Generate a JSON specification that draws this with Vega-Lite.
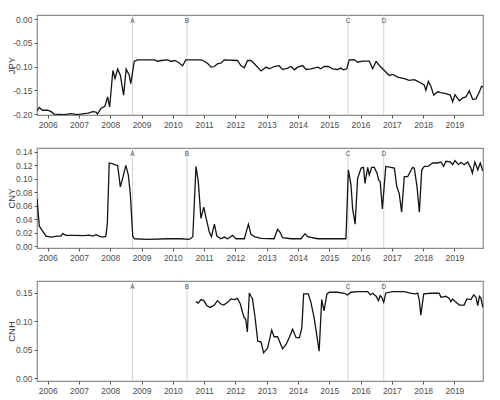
{
  "$schema": "https://vega.github.io/schema/vega-lite/v6.json",
  "padding": {"left": 5, "top": 14, "right": 18, "bottom": 4},
  "spacing": 17,
  "background": "white",
  "config": {
    "view": {"stroke": "#8c8c8c", "strokeWidth": 1.2},
    "axis": {
      "labelFont": "Liberation Sans", "labelFontSize": 8.5, "labelColor": "#4d4d4d",
      "titleFont": "Liberation Sans", "titleFontSize": 9.5, "titleFontWeight": "normal", "titleColor": "#333333",
      "domain": false, "tickColor": "#555555", "tickSize": 3, "labelPadding": 2, "labelFlush": false, "labelOverlap": false,
      "gridColor": "#e9e9e9"
    }
  },
  "datasets": {
    "events": [
      {"date": "2008-09-17", "label": "A"},
      {"date": "2010-06-15", "label": "B"},
      {"date": "2015-08-09", "label": "C"},
      {"date": "2016-09-28", "label": "D"}
    ],
    "jpy": [
      {"date": "2005-08-29", "value": -0.193}, {"date": "2005-09-25", "value": -0.186}, {"date": "2005-11-01", "value": -0.192},
      {"date": "2006-01-01", "value": -0.192}, {"date": "2006-02-10", "value": -0.195}, {"date": "2006-03-15", "value": -0.2},
      {"date": "2006-07-10", "value": -0.201}, {"date": "2006-10-01", "value": -0.199}, {"date": "2006-12-15", "value": -0.201},
      {"date": "2007-03-01", "value": -0.199}, {"date": "2007-04-20", "value": -0.198}, {"date": "2007-06-10", "value": -0.195},
      {"date": "2007-07-20", "value": -0.196}, {"date": "2007-08-05", "value": -0.2}, {"date": "2007-09-15", "value": -0.188},
      {"date": "2007-11-01", "value": -0.183}, {"date": "2007-12-01", "value": -0.164}, {"date": "2007-12-25", "value": -0.185},
      {"date": "2008-02-01", "value": -0.108}, {"date": "2008-02-25", "value": -0.125}, {"date": "2008-03-28", "value": -0.105},
      {"date": "2008-04-28", "value": -0.118}, {"date": "2008-06-05", "value": -0.16}, {"date": "2008-07-05", "value": -0.105},
      {"date": "2008-08-10", "value": -0.118}, {"date": "2008-08-28", "value": -0.136}, {"date": "2008-10-08", "value": -0.0885},
      {"date": "2008-11-15", "value": -0.0857}, {"date": "2009-03-15", "value": -0.0857}, {"date": "2009-05-30", "value": -0.0857},
      {"date": "2009-07-10", "value": -0.0885}, {"date": "2009-08-15", "value": -0.087}, {"date": "2009-11-01", "value": -0.0857},
      {"date": "2009-12-10", "value": -0.089}, {"date": "2010-01-20", "value": -0.087}, {"date": "2010-03-05", "value": -0.0906},
      {"date": "2010-04-25", "value": -0.098}, {"date": "2010-06-01", "value": -0.0857}, {"date": "2010-11-25", "value": -0.0857},
      {"date": "2011-01-05", "value": -0.0885}, {"date": "2011-02-15", "value": -0.094}, {"date": "2011-03-22", "value": -0.101},
      {"date": "2011-05-01", "value": -0.0997}, {"date": "2011-06-05", "value": -0.094}, {"date": "2011-07-15", "value": -0.0927},
      {"date": "2011-08-25", "value": -0.0857}, {"date": "2012-01-25", "value": -0.087}, {"date": "2012-03-05", "value": -0.0976},
      {"date": "2012-04-15", "value": -0.1024}, {"date": "2012-05-22", "value": -0.087}, {"date": "2012-07-01", "value": -0.087},
      {"date": "2012-08-10", "value": -0.094}, {"date": "2012-10-27", "value": -0.109}, {"date": "2012-12-25", "value": -0.101},
      {"date": "2013-02-01", "value": -0.1045}, {"date": "2013-03-28", "value": -0.0997}, {"date": "2013-05-25", "value": -0.098},
      {"date": "2013-07-05", "value": -0.106}, {"date": "2013-09-01", "value": -0.103}, {"date": "2013-10-12", "value": -0.0997},
      {"date": "2013-11-20", "value": -0.1066}, {"date": "2013-12-28", "value": -0.101}, {"date": "2014-02-25", "value": -0.0976},
      {"date": "2014-04-05", "value": -0.106}, {"date": "2014-06-01", "value": -0.1045}, {"date": "2014-08-18", "value": -0.101},
      {"date": "2014-09-25", "value": -0.1045}, {"date": "2014-11-01", "value": -0.0997}, {"date": "2014-12-20", "value": -0.0997},
      {"date": "2015-02-10", "value": -0.1045}, {"date": "2015-04-08", "value": -0.106}, {"date": "2015-05-15", "value": -0.103},
      {"date": "2015-06-17", "value": -0.1066}, {"date": "2015-07-25", "value": -0.1045}, {"date": "2015-08-22", "value": -0.0857},
      {"date": "2015-10-20", "value": -0.085}, {"date": "2015-11-28", "value": -0.0906}, {"date": "2016-01-25", "value": -0.0885},
      {"date": "2016-04-12", "value": -0.0885}, {"date": "2016-05-22", "value": -0.1045}, {"date": "2016-07-01", "value": -0.089},
      {"date": "2016-08-08", "value": -0.0976}, {"date": "2016-10-05", "value": -0.108}, {"date": "2016-12-02", "value": -0.1185},
      {"date": "2017-01-12", "value": -0.1164}, {"date": "2017-03-10", "value": -0.122}, {"date": "2017-05-26", "value": -0.1254},
      {"date": "2017-07-22", "value": -0.129}, {"date": "2017-09-20", "value": -0.1275}, {"date": "2017-10-30", "value": -0.131},
      {"date": "2017-12-05", "value": -0.1345}, {"date": "2018-01-15", "value": -0.139}, {"date": "2018-02-02", "value": -0.15},
      {"date": "2018-03-03", "value": -0.131}, {"date": "2018-04-01", "value": -0.1415}, {"date": "2018-05-05", "value": -0.16},
      {"date": "2018-06-20", "value": -0.153}, {"date": "2018-07-28", "value": -0.155}, {"date": "2018-09-24", "value": -0.157},
      {"date": "2018-11-14", "value": -0.16}, {"date": "2018-12-12", "value": -0.174}, {"date": "2019-01-08", "value": -0.159},
      {"date": "2019-02-28", "value": -0.172}, {"date": "2019-04-08", "value": -0.166}, {"date": "2019-05-15", "value": -0.164},
      {"date": "2019-06-24", "value": -0.151}, {"date": "2019-08-02", "value": -0.169}, {"date": "2019-09-10", "value": -0.168},
      {"date": "2019-10-20", "value": -0.153}, {"date": "2019-11-14", "value": -0.1415}, {"date": "2019-12-01", "value": -0.143}
    ],
    "cny": [
      {"date": "2005-08-29", "value": 0.0705}, {"date": "2005-09-25", "value": 0.03}, {"date": "2005-11-01", "value": 0.0227},
      {"date": "2005-12-12", "value": 0.0151}, {"date": "2006-02-10", "value": 0.0136}, {"date": "2006-04-25", "value": 0.0151},
      {"date": "2006-06-05", "value": 0.0151}, {"date": "2006-06-25", "value": 0.0186}, {"date": "2006-08-02", "value": 0.0161},
      {"date": "2006-11-05", "value": 0.0161}, {"date": "2007-03-01", "value": 0.0156}, {"date": "2007-05-01", "value": 0.0166},
      {"date": "2007-06-10", "value": 0.0151}, {"date": "2007-07-20", "value": 0.0171}, {"date": "2007-08-25", "value": 0.0151},
      {"date": "2007-10-05", "value": 0.0136}, {"date": "2007-11-10", "value": 0.0146}, {"date": "2007-11-28", "value": 0.0327},
      {"date": "2007-12-20", "value": 0.1234}, {"date": "2008-02-01", "value": 0.1219}, {"date": "2008-03-28", "value": 0.1194},
      {"date": "2008-04-28", "value": 0.0881}, {"date": "2008-05-25", "value": 0.1007}, {"date": "2008-07-01", "value": 0.1199},
      {"date": "2008-07-30", "value": 0.1058}, {"date": "2008-08-22", "value": 0.0781}, {"date": "2008-09-20", "value": 0.0151},
      {"date": "2008-10-08", "value": 0.0111}, {"date": "2009-03-15", "value": 0.0101}, {"date": "2009-11-01", "value": 0.0111},
      {"date": "2010-04-05", "value": 0.0111}, {"date": "2010-07-10", "value": 0.0101}, {"date": "2010-08-22", "value": 0.0141},
      {"date": "2010-09-28", "value": 0.1183}, {"date": "2010-10-25", "value": 0.0957}, {"date": "2010-11-25", "value": 0.0413},
      {"date": "2010-12-28", "value": 0.0579}, {"date": "2011-01-25", "value": 0.0413}, {"date": "2011-03-03", "value": 0.0212},
      {"date": "2011-03-28", "value": 0.0141}, {"date": "2011-05-01", "value": 0.0327}, {"date": "2011-05-30", "value": 0.0151},
      {"date": "2011-07-15", "value": 0.0111}, {"date": "2011-08-25", "value": 0.0136}, {"date": "2011-10-02", "value": 0.0111},
      {"date": "2011-11-30", "value": 0.0161}, {"date": "2012-01-08", "value": 0.0111}, {"date": "2012-03-05", "value": 0.0111},
      {"date": "2012-04-15", "value": 0.0111}, {"date": "2012-06-01", "value": 0.0327}, {"date": "2012-07-01", "value": 0.0176},
      {"date": "2012-08-10", "value": 0.0141}, {"date": "2012-10-27", "value": 0.0116}, {"date": "2013-03-28", "value": 0.0111},
      {"date": "2013-05-08", "value": 0.0252}, {"date": "2013-06-08", "value": 0.0201}, {"date": "2013-07-05", "value": 0.0126},
      {"date": "2013-10-12", "value": 0.0111}, {"date": "2014-02-05", "value": 0.0111}, {"date": "2014-03-25", "value": 0.0186},
      {"date": "2014-04-22", "value": 0.0141}, {"date": "2014-08-18", "value": 0.0111}, {"date": "2015-01-22", "value": 0.0111},
      {"date": "2015-07-15", "value": 0.0111}, {"date": "2015-08-12", "value": 0.1133}, {"date": "2015-09-12", "value": 0.0906},
      {"date": "2015-10-01", "value": 0.0554}, {"date": "2015-10-30", "value": 0.0327}, {"date": "2015-11-28", "value": 0.1007},
      {"date": "2016-01-08", "value": 0.1158}, {"date": "2016-02-05", "value": 0.1168}, {"date": "2016-02-22", "value": 0.0932},
      {"date": "2016-03-25", "value": 0.1168}, {"date": "2016-04-12", "value": 0.1058}, {"date": "2016-05-10", "value": 0.1168},
      {"date": "2016-06-10", "value": 0.1168}, {"date": "2016-07-12", "value": 0.1083}, {"date": "2016-07-30", "value": 0.0982},
      {"date": "2016-08-18", "value": 0.0957}, {"date": "2016-09-12", "value": 0.0554}, {"date": "2016-10-22", "value": 0.1183},
      {"date": "2016-12-20", "value": 0.1168}, {"date": "2017-01-30", "value": 0.1158}, {"date": "2017-02-28", "value": 0.0881},
      {"date": "2017-03-28", "value": 0.0781}, {"date": "2017-04-25", "value": 0.0504}, {"date": "2017-05-26", "value": 0.1032},
      {"date": "2017-07-05", "value": 0.1032}, {"date": "2017-08-05", "value": 0.1108}, {"date": "2017-09-01", "value": 0.1168},
      {"date": "2017-09-20", "value": 0.1158}, {"date": "2017-10-22", "value": 0.0881}, {"date": "2017-11-18", "value": 0.0504},
      {"date": "2017-12-16", "value": 0.1133}, {"date": "2018-01-15", "value": 0.1183}, {"date": "2018-02-25", "value": 0.1183},
      {"date": "2018-04-22", "value": 0.1234}, {"date": "2018-06-20", "value": 0.1234}, {"date": "2018-07-28", "value": 0.1249},
      {"date": "2018-08-28", "value": 0.1183}, {"date": "2018-09-24", "value": 0.1259}, {"date": "2018-11-14", "value": 0.1249},
      {"date": "2018-12-12", "value": 0.1209}, {"date": "2019-01-08", "value": 0.1269}, {"date": "2019-02-17", "value": 0.1209},
      {"date": "2019-03-18", "value": 0.1244}, {"date": "2019-04-25", "value": 0.1209}, {"date": "2019-06-05", "value": 0.1249},
      {"date": "2019-07-12", "value": 0.1158}, {"date": "2019-07-30", "value": 0.1083}, {"date": "2019-08-28", "value": 0.1249},
      {"date": "2019-10-01", "value": 0.1133}, {"date": "2019-10-30", "value": 0.1234}, {"date": "2019-11-28", "value": 0.1118}
    ],
    "cnh": [
      {"date": "2010-09-28", "value": 0.1346}, {"date": "2010-10-25", "value": 0.1322}, {"date": "2010-11-25", "value": 0.1382},
      {"date": "2010-12-28", "value": 0.1364}, {"date": "2011-02-03", "value": 0.1275}, {"date": "2011-03-15", "value": 0.1245},
      {"date": "2011-05-01", "value": 0.1287}, {"date": "2011-06-05", "value": 0.1364}, {"date": "2011-07-15", "value": 0.1305},
      {"date": "2011-08-18", "value": 0.1287}, {"date": "2011-10-02", "value": 0.1334}, {"date": "2011-11-10", "value": 0.1394},
      {"date": "2011-12-20", "value": 0.1382}, {"date": "2012-01-25", "value": 0.1405}, {"date": "2012-02-28", "value": 0.1305},
      {"date": "2012-03-25", "value": 0.1156}, {"date": "2012-04-12", "value": 0.1067}, {"date": "2012-05-01", "value": 0.1038},
      {"date": "2012-05-20", "value": 0.0812}, {"date": "2012-06-12", "value": 0.15}, {"date": "2012-07-01", "value": 0.1441},
      {"date": "2012-07-18", "value": 0.1405}, {"date": "2012-08-18", "value": 0.1067}, {"date": "2012-09-18", "value": 0.0652},
      {"date": "2012-10-27", "value": 0.0635}, {"date": "2012-11-25", "value": 0.0445}, {"date": "2013-01-12", "value": 0.0534},
      {"date": "2013-02-28", "value": 0.0848}, {"date": "2013-03-28", "value": 0.0729}, {"date": "2013-05-08", "value": 0.0729},
      {"date": "2013-07-05", "value": 0.0516}, {"date": "2013-08-15", "value": 0.0593}, {"date": "2013-09-25", "value": 0.0729},
      {"date": "2013-10-30", "value": 0.086}, {"date": "2013-12-10", "value": 0.0712}, {"date": "2014-01-18", "value": 0.0712},
      {"date": "2014-02-15", "value": 0.089}, {"date": "2014-03-08", "value": 0.1483}, {"date": "2014-05-01", "value": 0.1483},
      {"date": "2014-06-01", "value": 0.1334}, {"date": "2014-07-08", "value": 0.1067}, {"date": "2014-08-10", "value": 0.0741},
      {"date": "2014-09-05", "value": 0.0474}, {"date": "2014-10-05", "value": 0.1382}, {"date": "2014-11-01", "value": 0.1186},
      {"date": "2014-12-05", "value": 0.1483}, {"date": "2015-01-01", "value": 0.1512}, {"date": "2015-04-08", "value": 0.1512},
      {"date": "2015-06-25", "value": 0.1494}, {"date": "2015-08-02", "value": 0.1465}, {"date": "2015-09-12", "value": 0.1512},
      {"date": "2015-11-28", "value": 0.1524}, {"date": "2016-03-25", "value": 0.1524}, {"date": "2016-04-25", "value": 0.1465},
      {"date": "2016-05-22", "value": 0.1494}, {"date": "2016-07-01", "value": 0.1441}, {"date": "2016-07-28", "value": 0.1364},
      {"date": "2016-08-18", "value": 0.1453}, {"date": "2016-09-05", "value": 0.1423}, {"date": "2016-09-28", "value": 0.1334},
      {"date": "2016-10-22", "value": 0.15}, {"date": "2017-01-12", "value": 0.1524}, {"date": "2017-05-26", "value": 0.1524},
      {"date": "2017-07-22", "value": 0.15}, {"date": "2017-09-20", "value": 0.1483}, {"date": "2017-10-30", "value": 0.1494},
      {"date": "2017-11-18", "value": 0.1364}, {"date": "2017-12-05", "value": 0.1109}, {"date": "2018-01-08", "value": 0.1483},
      {"date": "2018-04-01", "value": 0.1494}, {"date": "2018-07-08", "value": 0.1494}, {"date": "2018-07-28", "value": 0.1423},
      {"date": "2018-09-24", "value": 0.1441}, {"date": "2018-11-02", "value": 0.1405}, {"date": "2018-11-20", "value": 0.1346},
      {"date": "2018-12-12", "value": 0.1394}, {"date": "2019-01-20", "value": 0.1334}, {"date": "2019-02-28", "value": 0.1287},
      {"date": "2019-04-25", "value": 0.1287}, {"date": "2019-05-26", "value": 0.1394}, {"date": "2019-07-12", "value": 0.1382},
      {"date": "2019-08-15", "value": 0.1465}, {"date": "2019-09-10", "value": 0.1423}, {"date": "2019-10-01", "value": 0.1275},
      {"date": "2019-10-20", "value": 0.1441}, {"date": "2019-11-08", "value": 0.1405}, {"date": "2019-11-28", "value": 0.1245}
    ]
  },
  "vconcat": [
    {
      "width": 446, "height": 100,
      "resolve": {"axis": {"x": "independent", "y": "independent"}},
      "layer": [
        {"data": {"name": "events"}, "mark": {"type": "rule", "color": "#c8c8c8", "strokeWidth": 0.8},
         "encoding": {"x": {"field": "date", "type": "temporal", "axis": null, "scale": {"domain": [{"year": 2005, "month": 8, "date": 29}, {"year": 2019, "month": 12, "date": 1}]}}}},
        {"data": {"name": "events"}, "mark": {"type": "text", "baseline": "top", "dy": 3, "fontSize": 6.5, "font": "Liberation Sans", "color": "#555555"},
         "encoding": {
           "x": {"field": "date", "type": "temporal", "title": null,
             "axis": {"orient": "top", "labels": false, "ticks": false, "gridColor": "#f4f4f4",
               "values": [{"year": 2006, "month": 7, "date": 1}, {"year": 2007, "month": 7, "date": 1}, {"year": 2008, "month": 7, "date": 1}, {"year": 2009, "month": 7, "date": 1}, {"year": 2010, "month": 7, "date": 1}, {"year": 2011, "month": 7, "date": 1}, {"year": 2012, "month": 7, "date": 1}, {"year": 2013, "month": 7, "date": 1}, {"year": 2014, "month": 7, "date": 1}, {"year": 2015, "month": 7, "date": 1}, {"year": 2016, "month": 7, "date": 1}, {"year": 2017, "month": 7, "date": 1}, {"year": 2018, "month": 7, "date": 1}, {"year": 2019, "month": 7, "date": 1}]}},
           "y": {"datum": 0.009, "type": "quantitative", "title": null, "scale": {"domain": [-0.202, 0.009]},
             "axis": {"orient": "right", "labels": false, "ticks": false, "gridColor": "#f4f4f4", "values": [-0.175, -0.125, -0.075, -0.025]}},
           "text": {"field": "label"}}},
        {"data": {"name": "jpy"}, "mark": {"type": "line", "color": "#141414", "strokeWidth": 1.3, "clip": true},
         "encoding": {
           "x": {"field": "date", "type": "temporal", "title": null,
             "scale": {"domain": [{"year": 2005, "month": 8, "date": 29}, {"year": 2019, "month": 12, "date": 1}]},
             "axis": {"tickCount": {"interval": "year", "step": 1}, "format": "%Y"}},
           "y": {"field": "value", "type": "quantitative", "title": "JPY",
             "scale": {"domain": [-0.202, 0.009]},
             "axis": {"values": [-0.2, -0.15, -0.1, -0.05, 0],
               "labelExpr": "replace(format(datum.value,'.2f'),'\u2212','-')",
               "titleX": -26, "titleY": 50, "titleAngle": 270, "titleAlign": "center", "titleBaseline": "middle"}}
         }}
      ]
    },
    {
      "width": 446, "height": 100,
      "resolve": {"axis": {"x": "independent", "y": "independent"}},
      "layer": [
        {"data": {"name": "events"}, "mark": {"type": "rule", "color": "#c8c8c8", "strokeWidth": 0.8},
         "encoding": {"x": {"field": "date", "type": "temporal", "axis": null, "scale": {"domain": [{"year": 2005, "month": 8, "date": 29}, {"year": 2019, "month": 12, "date": 1}]}}}},
        {"data": {"name": "events"}, "mark": {"type": "text", "baseline": "top", "dy": 3, "fontSize": 6.5, "font": "Liberation Sans", "color": "#555555"},
         "encoding": {
           "x": {"field": "date", "type": "temporal", "title": null,
             "axis": {"orient": "top", "labels": false, "ticks": false, "gridColor": "#f4f4f4",
               "values": [{"year": 2006, "month": 7, "date": 1}, {"year": 2007, "month": 7, "date": 1}, {"year": 2008, "month": 7, "date": 1}, {"year": 2009, "month": 7, "date": 1}, {"year": 2010, "month": 7, "date": 1}, {"year": 2011, "month": 7, "date": 1}, {"year": 2012, "month": 7, "date": 1}, {"year": 2013, "month": 7, "date": 1}, {"year": 2014, "month": 7, "date": 1}, {"year": 2015, "month": 7, "date": 1}, {"year": 2016, "month": 7, "date": 1}, {"year": 2017, "month": 7, "date": 1}, {"year": 2018, "month": 7, "date": 1}, {"year": 2019, "month": 7, "date": 1}]}},
           "y": {"datum": 0.1456, "type": "quantitative", "title": null, "scale": {"domain": [-0.0026, 0.1456]},
             "axis": {"orient": "right", "labels": false, "ticks": false, "gridColor": "#f4f4f4", "values": [0.01, 0.03, 0.05, 0.07, 0.09, 0.11, 0.13]}},
           "text": {"field": "label"}}},
        {"data": {"name": "cny"}, "mark": {"type": "line", "color": "#141414", "strokeWidth": 1.3, "clip": true},
         "encoding": {
           "x": {"field": "date", "type": "temporal", "title": null,
             "scale": {"domain": [{"year": 2005, "month": 8, "date": 29}, {"year": 2019, "month": 12, "date": 1}]},
             "axis": {"tickCount": {"interval": "year", "step": 1}, "format": "%Y"}},
           "y": {"field": "value", "type": "quantitative", "title": "CNY",
             "scale": {"domain": [-0.0026, 0.1456]},
             "axis": {"values": [0, 0.02, 0.04, 0.06, 0.08, 0.1, 0.12, 0.14], "format": ".2f",
               "titleX": -26, "titleY": 50, "titleAngle": 270, "titleAlign": "center", "titleBaseline": "middle"}}
         }}
      ]
    },
    {
      "width": 446, "height": 100,
      "resolve": {"axis": {"x": "independent", "y": "independent"}},
      "layer": [
        {"data": {"name": "events"}, "mark": {"type": "rule", "color": "#c8c8c8", "strokeWidth": 0.8},
         "encoding": {"x": {"field": "date", "type": "temporal", "axis": null, "scale": {"domain": [{"year": 2005, "month": 8, "date": 29}, {"year": 2019, "month": 12, "date": 1}]}}}},
        {"data": {"name": "events"}, "mark": {"type": "text", "baseline": "top", "dy": 3, "fontSize": 6.5, "font": "Liberation Sans", "color": "#555555"},
         "encoding": {
           "x": {"field": "date", "type": "temporal", "title": null,
             "axis": {"orient": "top", "labels": false, "ticks": false, "gridColor": "#f4f4f4",
               "values": [{"year": 2006, "month": 7, "date": 1}, {"year": 2007, "month": 7, "date": 1}, {"year": 2008, "month": 7, "date": 1}, {"year": 2009, "month": 7, "date": 1}, {"year": 2010, "month": 7, "date": 1}, {"year": 2011, "month": 7, "date": 1}, {"year": 2012, "month": 7, "date": 1}, {"year": 2013, "month": 7, "date": 1}, {"year": 2014, "month": 7, "date": 1}, {"year": 2015, "month": 7, "date": 1}, {"year": 2016, "month": 7, "date": 1}, {"year": 2017, "month": 7, "date": 1}, {"year": 2018, "month": 7, "date": 1}, {"year": 2019, "month": 7, "date": 1}]}},
           "y": {"datum": 0.171, "type": "quantitative", "title": null, "scale": {"domain": [-0.005, 0.171]},
             "axis": {"orient": "right", "labels": false, "ticks": false, "gridColor": "#f4f4f4", "values": [0.025, 0.075, 0.125]}},
           "text": {"field": "label"}}},
        {"data": {"name": "cnh"}, "mark": {"type": "line", "color": "#141414", "strokeWidth": 1.3, "clip": true},
         "encoding": {
           "x": {"field": "date", "type": "temporal", "title": null,
             "scale": {"domain": [{"year": 2005, "month": 8, "date": 29}, {"year": 2019, "month": 12, "date": 1}]},
             "axis": {"tickCount": {"interval": "year", "step": 1}, "format": "%Y"}},
           "y": {"field": "value", "type": "quantitative", "title": "CNH",
             "scale": {"domain": [-0.005, 0.171]},
             "axis": {"values": [0, 0.05, 0.1, 0.15], "format": ".2f",
               "titleX": -26, "titleY": 50, "titleAngle": 270, "titleAlign": "center", "titleBaseline": "middle"}}
         }}
      ]
    }
  ]
}
